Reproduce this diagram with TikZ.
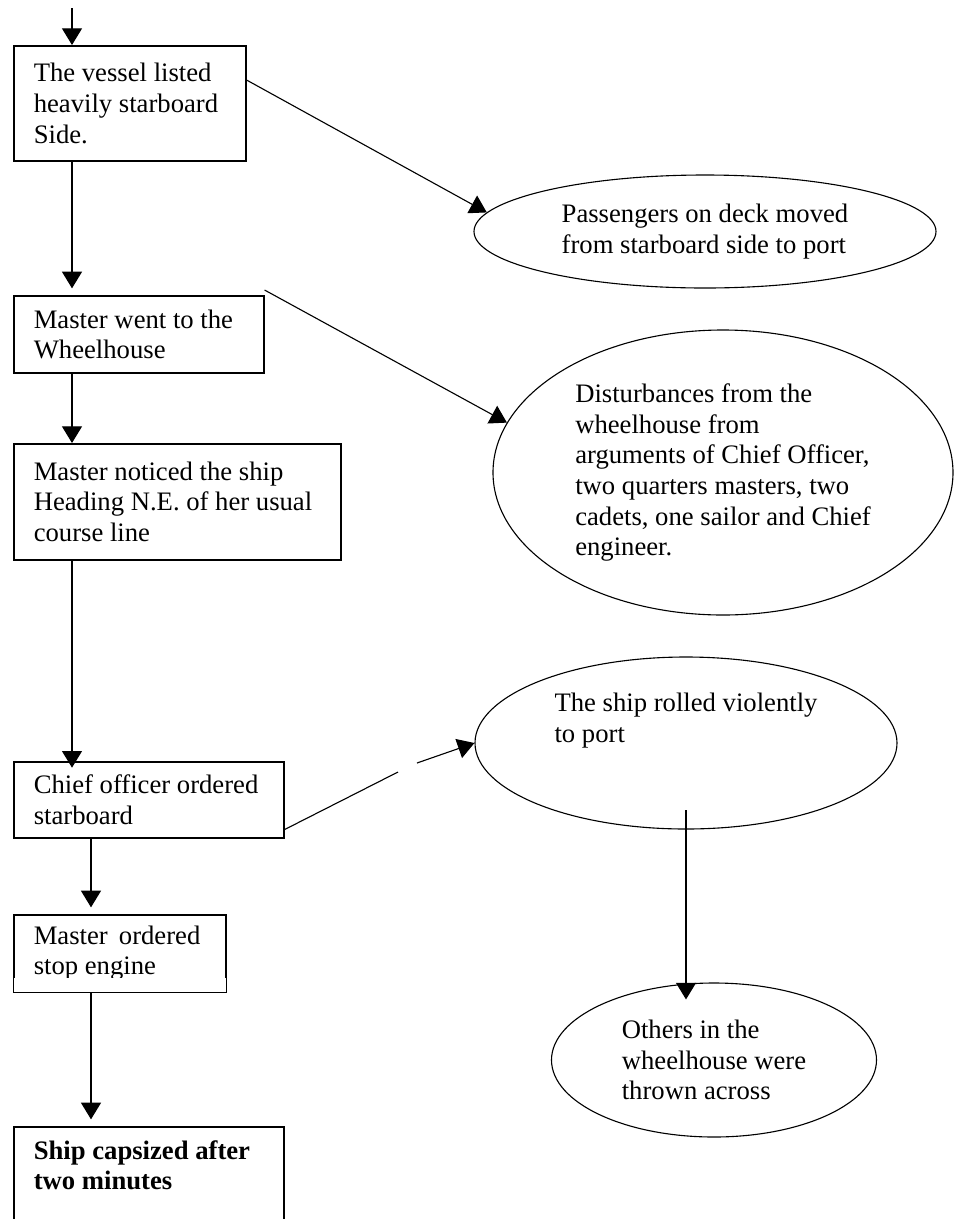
\documentclass[tikz,border=0pt]{standalone}
\usepackage{fontspec}
\setmainfont{Liberation Serif}
\usetikzlibrary{arrows.meta,calc,shapes.geometric}

\begin{document}
\frenchspacing
\begin{tikzpicture}[x=0.45pt,y=-0.45pt,
        every node/.style={font=\fontsize{12}{13.8}\selectfont},
        box/.style={draw,line width=0.7pt,anchor=north west,align=flush left,
            inner xsep=9pt,inner ysep=0pt,minimum height=#1},
        oval/.style={draw,ellipse,line width=0.5pt,align=left,inner sep=0pt},
        arr/.style={line width=0.5pt,-{Triangle[width=9pt,length=7.5pt]}}]
        \useasboundingbox (0,0) rectangle (954,1219);
        \clip (0,0) rectangle (954,1219);

        \node[box=51.75pt,text width=86.4pt] (b1) at (13,45) {The vessel listed\\heavily starboard\\Side.};
        \node[box=34.65pt,text width=94.5pt] (b2) at (13,295) {Master went to the\\Wheelhouse};
        \node[box=52.2pt,text width=129.15pt] (b3) at (13,443) {Master noticed the ship\\Heading N.E. of her usual\\course line};
        \node[box=34.2pt,text width=103.5pt] (b4) at (13,761) {Chief officer ordered\\starboard};
        \node[box=34.65pt,text width=77.4pt] (b5) at (13,914) {Master\hspace{2pt} ordered\\stop engine};
        \node[box=50.5pt,text width=103.5pt,text depth=29.8pt,
            font=\fontsize{12}{13.8}\selectfont\bfseries] (b6) at (13,1126) {Ship capsized after\\two minutes};

        \node[oval,minimum width=207.9pt,minimum height=50.85pt] (e1) at (705,231.5)
            {Passengers on deck moved\\from starboard side to port};
        \node[oval,minimum width=207pt,minimum height=128.25pt] (e2) at (723,472.5)
            {Disturbances from the\\wheelhouse from\\arguments of Chief Officer,\\two quarters masters, two\\cadets, one sailor and Chief\\engineer.};
        \node[oval,minimum width=189.9pt,minimum height=77.4pt,text depth=22.5pt] (e3) at (686,743)
            {The ship rolled violently\\to port};
        \node[oval,minimum width=146.25pt,minimum height=69.3pt] (e4) at (714,1060)
            {Others in the\\wheelhouse were\\thrown across};

        \fill[white] ($(b5.south west)+(1,-1)$) rectangle ($(b5.south east)+(-1,-15)$);

        \coordinate (top) at (72,8);
        \coordinate (lane) at (91,0);
        \coordinate (gapA) at (398,772);
        \coordinate (gapB) at (417,763);

        \draw[arr] (top) -- (b1.north -| top);
        \draw[arr,shorten >=3pt] (b1.south -| top) -- (b2.north -| top);
        \draw[arr] (b2.south -| top) -- (b3.north -| top);
        \draw[arr,shorten >=-3pt] (b3.south -| top) -- (b4.north -| top);
        \draw[arr,shorten >=3pt] (b4.south -| lane) -- (b5.north -| lane);
        \draw[arr,shorten >=3pt] (b5.south -| lane) -- (b6.north -| lane);

        \draw[arr] ($(b1.north east)+(0,35)$) -- (e1.175);
        \draw[arr] ($(b2.north east)+(0,-5)$) -- (e2.167);
        \draw[line width=0.5pt] ($(b4.south east)+(0,-9)$) -- (gapA);
        \draw[arr] (gapB) -- (e3.west);
        \draw[arr] ($(e3.center)+(0,67)$) -- ($(e3.center |- e4.north)+(0,17)$);
\end{tikzpicture}
\end{document}
